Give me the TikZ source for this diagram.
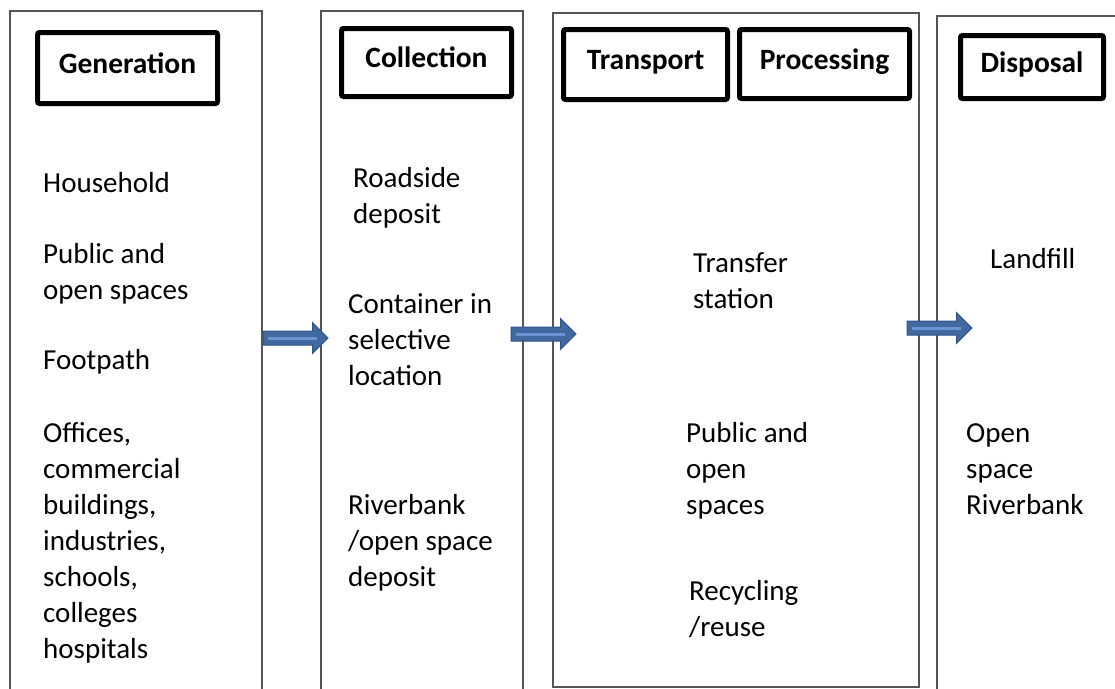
\documentclass[tikz,border=0pt]{standalone}
\usepackage{fontspec}
\setmainfont{Carlito}
\usepackage{tikz}
\usetikzlibrary{calc,shapes.arrows,positioning}
\usepackage{xcolor}
\definecolor{arrowblue}{HTML}{4268A0}
\definecolor{arrowdark}{HTML}{2F5288}
\definecolor{arrowlight}{HTML}{6A95D2}
\definecolor{edge}{HTML}{555555}

\begin{document}
\begin{tikzpicture}[x=1pt, y=-1pt,
  colbox/.style={
    rectangle,
    draw=edge,
    line width=1.5pt,
    anchor=north west,
    inner sep=0
  },
  titlebox/.style={
    rectangle,
    draw=black,
    line width=5pt,
    rounded corners=2pt,
    inner sep=0,
    text height=20pt,
    text depth=10pt,
    font=\fontsize{29.5}{34}\selectfont\bfseries
  },
  itemtext/.style={
    anchor=west,
    align=left,
    inner sep=0,
    font=\fontsize{29}{36}\selectfont
  },
  flowarrow/.style={
    single arrow,
    draw=arrowdark,
    fill=arrowblue,
    line width=1pt,
    inner sep=6.5pt,
    minimum height=65pt,
    single arrow head extend=8.5pt,
    single arrow tip angle=90
  },
  stripe/.style={arrowlight, line width=3pt}
  ]
  \clip (0,0) rectangle (1115,688);

  % generation
  \begin{scope}
    \node[colbox, minimum width=252pt, minimum height=720pt] (gen-col) at (9,10) {};
    \node[titlebox, minimum width=180pt, minimum height=71pt] (gen-title) at (127.5,68) {Generation};

    \node[itemtext] (gen-house) at (43,183) {Household};
    \node[itemtext] (gen-public) at (43,274) {Public and\\open spaces};
    \node[itemtext] (gen-foot) at (43,362) {Footpath};
    \node[itemtext] (gen-office) at (43,543) {Offices,\\commercial\\buildings,\\industries,\\schools,\\colleges\\hospitals};
  \end{scope}

  % collection
  \begin{scope}
    \node[colbox, minimum width=202pt, minimum height=720pt] (col-col) at (320,10) {};
    \node[titlebox, minimum width=170pt, minimum height=68pt] (col-title) at (426.5,62.5) {Collection};

    \node[itemtext] (col-road) at (353,198) {Roadside\\deposit};
    \node[itemtext] (col-cont) at (348,339.5) {Container in\\selective\\location};
    \node[itemtext] (col-river) at (348,543) {Riverbank\\/open space\\deposit};
  \end{scope}

  % transport and processing
  \begin{scope}
    \node[colbox, minimum width=366pt, minimum height=674pt] (tp-col) at (552,12) {};
    \node[titlebox, minimum width=164pt, minimum height=70pt] (trans-title) at (645.5,64.5) {Transport};
    \node[titlebox, minimum width=170pt, minimum height=69pt] (proc-title) at (824.5,64) {Processing};

    \node[itemtext] (tp-transfer) at (693,281) {Transfer\\station};
    \node[itemtext] (tp-public) at (686,470.5) {Public and\\open\\spaces};
    \node[itemtext] (tp-recyc) at (689,609.5) {Recycling\\/reuse};
  \end{scope}

  % disposal
  \begin{scope}
    \node[colbox, minimum width=260pt, minimum height=720pt] (disp-col) at (936,15) {};
    \node[titlebox, minimum width=143pt, minimum height=63pt] (disp-title) at (1032,67) {Disposal};

    \node[itemtext] (disp-land) at (990,259) {Landfill};
    \node[itemtext] (disp-open) at (966,469) {Open\\space\\Riverbank};
  \end{scope}

  % flow arrows
  \node[flowarrow] (arr-gen) at (292,338) {};
  \node[flowarrow] (arr-col) at (540,334) {};
  \node[flowarrow] (arr-disp) at (936,328) {};
  \draw[stripe] ($(arr-gen.tail)+(5,0)$) -- ($(arr-gen.tip)+(-12,0)$);
  \draw[stripe] ($(arr-col.tail)+(5,0)$) -- ($(arr-col.tip)+(-12,0)$);
  \draw[stripe] ($(arr-disp.tail)+(5,0)$) -- ($(arr-disp.tip)+(-12,0)$);

\end{tikzpicture}
\end{document}
